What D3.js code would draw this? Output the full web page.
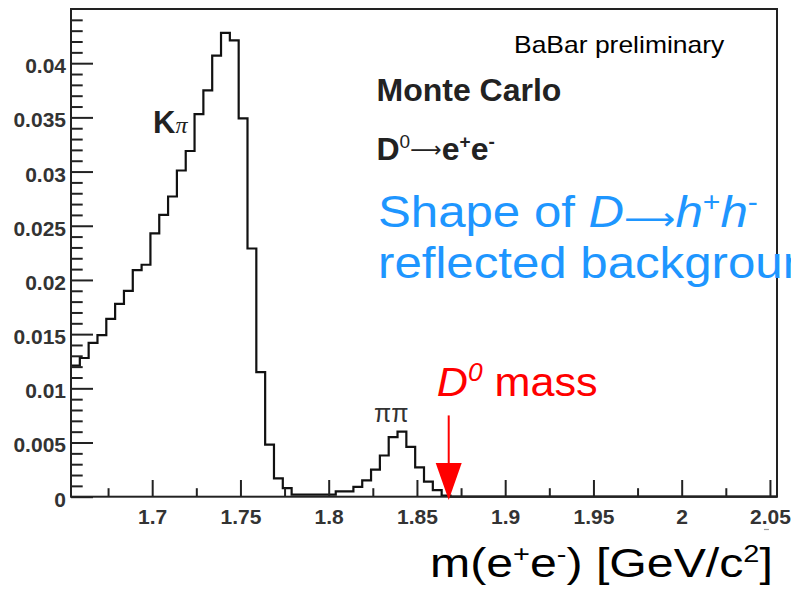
<!DOCTYPE html>
<html>
<head>
<meta charset="utf-8">
<script src="https://cdn.jsdelivr.net/npm/d3@7"></script>
<style>
  body { margin: 0; background: #fff; }
  svg { display: block; }
  text { font-family: "Liberation Sans", Arial, sans-serif; }
</style>
</head>
<body>
<svg id="mainsvg" width="791" height="597"></svg>
<script>
// histogram: m(e+e-) bins of 0.005 GeV starting at the axis minimum
var binStart = 1.654;
var binWidth = 0.005;
var binValues = [
  0.0121, 0.0128, 0.0142, 0.0149, 0.0164, 0.0178, 0.0190, 0.0209, 0.0214, 0.0243,
  0.0260, 0.0277, 0.0301, 0.0319, 0.0353, 0.0375, 0.0407, 0.0428, 0.0421, 0.0349,
  0.0229, 0.0115, 0.0048, 0.0017, 0.0008, 0.0002, 0.0002, 0.0002, 0.0002, 0.0002,
  0.0005, 0.0005, 0.0009, 0.0015, 0.0025, 0.0038, 0.0055, 0.0060, 0.0046, 0.0027,
  0.0014, 0.0006, 0.0001, 0, 0, 0, 0, 0, 0, 0,
  0, 0, 0, 0, 0, 0, 0, 0, 0, 0,
  0, 0, 0, 0, 0, 0, 0, 0, 0, 0,
  0, 0, 0, 0, 0, 0, 0, 0, 0, 0
];
var xDomain = [1.654, 2.054];
var yDomain = [0, 0.045];
var xMajor = [1.7, 1.75, 1.8, 1.85, 1.9, 1.95, 2, 2.05];
var xMinor = [1.675, 1.725, 1.775, 1.825, 1.875, 1.925, 1.975, 2.025];
var yMajor = [0, 0.005, 0.01, 0.015, 0.02, 0.025, 0.03, 0.035, 0.04];
var yMinor = [];
for (var i = 1; i <= 44; i++) if (i % 5 !== 0) yMinor.push(i / 1000);
var d0Mass = 1.868;         // where the red arrow points
var arrowRange = [0.0075, -0.0003];

var svg = d3.select("#mainsvg");
var m = { left: 71, right: 777, top: 9, bottom: 496.7 };

var x = d3.scaleLinear().domain(xDomain).range([m.left, m.right]);
var y = d3.scaleLinear().domain(yDomain).range([m.bottom, m.top]);

// histogram outline
var pts = binValues.map(function (v, i) {
  return [binStart + i * binWidth, v];
});
pts.push([binStart + binValues.length * binWidth, binValues[binValues.length - 1]]);
var line = d3.line()
  .x(function (d) { return x(d[0]); })
  .y(function (d) { return y(d[1]); })
  .curve(d3.curveStepAfter);
svg.append("path")
  .datum(pts)
  .attr("d", line)
  .attr("fill", "none")
  .attr("stroke", "#111")
  .attr("stroke-width", 2.2);

// axes
var gx = svg.append("g").attr("transform", "translate(0," + m.bottom + ")");
gx.call(d3.axisBottom(x).tickValues(xMajor).tickSize(-16.7).tickPadding(12)
  .tickFormat(function (d) { return d3.format("")(+d.toFixed(2)); }));
gx.append("g").call(d3.axisBottom(x).tickValues(xMinor).tickSize(-8.5).tickFormat(""));

var gy = svg.append("g").attr("transform", "translate(" + m.left + ",0)");
gy.call(d3.axisLeft(y).tickValues(yMajor).tickSize(-22).tickPadding(5)
  .tickFormat(function (d) { return d === 0 ? "0" : d3.format("")(+d.toFixed(3)); }));
gy.append("g").call(d3.axisLeft(y).tickValues(yMinor).tickSize(-11.7).tickFormat(""));

svg.selectAll(".domain").remove();
svg.selectAll(".tick line").attr("stroke", "#222").attr("stroke-width", 2);
svg.selectAll(".tick text")
  .attr("font-size", 21)
  .attr("font-weight", "bold")
  .attr("fill", "#333")
  .attr("font-family", "'Liberation Sans', Arial, sans-serif");
gy.selectAll(".tick text").attr("dy", "0.45em");

// frame
svg.append("rect")
  .attr("x", m.left).attr("y", m.top)
  .attr("width", m.right - m.left).attr("height", m.bottom - m.top)
  .attr("fill", "none").attr("stroke", "#222").attr("stroke-width", 2);

// small mark under 2.05
svg.append("line")
  .attr("x1", x(2.05) - 6).attr("x2", x(2.05) - 1)
  .attr("y1", 529.5).attr("y2", 529.5)
  .attr("stroke", "#999").attr("stroke-width", 1.2);

// D0 mass arrow
var ax = x(d0Mass);
svg.append("line")
  .attr("x1", ax).attr("x2", ax)
  .attr("y1", y(arrowRange[0])).attr("y2", y(arrowRange[1]) - 30)
  .attr("stroke", "#f00").attr("stroke-width", 2);
svg.append("path")
  .attr("d", "M" + (ax - 13) + "," + (y(arrowRange[1]) - 37) +
    "L" + (ax + 13) + "," + (y(arrowRange[1]) - 37) +
    "L" + ax + "," + y(arrowRange[1]) + "Z")
  .attr("fill", "#f00");

// stretches a text horizontally so it covers a given width
function fit(t, x0, y0, w) {
  var bw = t.node().getBBox().width;
  t.attr("transform", "translate(" + x0 + "," + y0 + ") scale(" + (w / bw) + ",1)");
  return w / bw;
}

// labels on the plot
var kp = svg.append("text").attr("x", 153).attr("y", 132.5).attr("fill", "#222");
kp.append("tspan").attr("font-size", 31).attr("font-weight", "bold").text("K");
kp.append("tspan").attr("font-size", 24).attr("font-style", "italic")
  .attr("font-family", "'Liberation Serif', serif").text("π");

svg.append("text").attr("x", 374).attr("y", 422)
  .attr("font-size", 25).attr("fill", "#333")
  .attr("font-family", "'Liberation Serif', serif")
  .text("ππ");

svg.append("text").attr("x", 376.5).attr("y", 100.7)
  .attr("font-size", 32).attr("font-weight", "bold").attr("fill", "#222")
  .text("Monte Carlo");

var de = svg.append("text").attr("x", 376.5).attr("y", 160)
  .attr("font-size", 32).attr("font-weight", "bold").attr("fill", "#222");
de.append("tspan").text("D");
de.append("tspan").attr("font-size", 19).attr("font-weight", "normal").attr("dy", -12).text("0");
de.append("tspan").attr("font-size", 22).attr("font-weight", "normal")
  .attr("font-family", "'DejaVu Sans', sans-serif").attr("dy", 9).text("⟶");
de.append("tspan").attr("dy", 3).text("e");
de.append("tspan").attr("font-size", 19).attr("dy", -12).text("+");
de.append("tspan").attr("dy", 12).text("e");
de.append("tspan").attr("font-size", 19).attr("dy", -12).text("-");

// slide annotations
var bb = svg.append("text").attr("font-size", 23).attr("fill", "#000").text("BaBar preliminary");
fit(bb, 514, 53.3, 211);

var blue = "#1e96ff";
var sh = svg.append("text").attr("font-size", 44).attr("fill", blue);
sh.append("tspan").text("Shape of ");
sh.append("tspan").attr("font-style", "italic").text("D");
sh.append("tspan").attr("font-family", "'DejaVu Sans', sans-serif").attr("font-size", 32)
  .attr("dy", 3).text("⟶");
sh.append("tspan").attr("font-style", "italic").attr("dy", -3).text("h");
sh.append("tspan").attr("font-size", 27).attr("dy", -16).text("+");
sh.append("tspan").attr("font-style", "italic").attr("dy", 16).text("h");
sh.append("tspan").attr("font-size", 27).attr("dy", -16).text("-");
var sx = fit(sh, 378, 226.7, 380);

svg.append("text").attr("font-size", 44).attr("fill", blue)
  .attr("transform", "translate(378,278.3) scale(" + sx + ",1)")
  .text("reflected background");

var dm = svg.append("text").attr("font-size", 41).attr("fill", "#f00");
dm.append("tspan").attr("font-style", "italic").text("D");
dm.append("tspan").attr("font-style", "italic").attr("font-size", 25).attr("dy", -15).text("0");
dm.append("tspan").attr("dy", 15).text(" mass");
fit(dm, 436.7, 396, 161);

// axis title
var tt = svg.append("text").attr("font-size", 40).attr("fill", "#000");
tt.append("tspan").text("m(e");
tt.append("tspan").attr("font-size", 24).attr("dy", -15).text("+");
tt.append("tspan").attr("dy", 15).text("e");
tt.append("tspan").attr("font-size", 24).attr("dy", -15).text("-");
tt.append("tspan").attr("dy", 15).text(") [GeV/c");
tt.append("tspan").attr("font-size", 24).attr("dy", -15).text("2");
tt.append("tspan").attr("dy", 15).text("]");
fit(tt, 430, 577, 343);
</script>
</body>
</html>
